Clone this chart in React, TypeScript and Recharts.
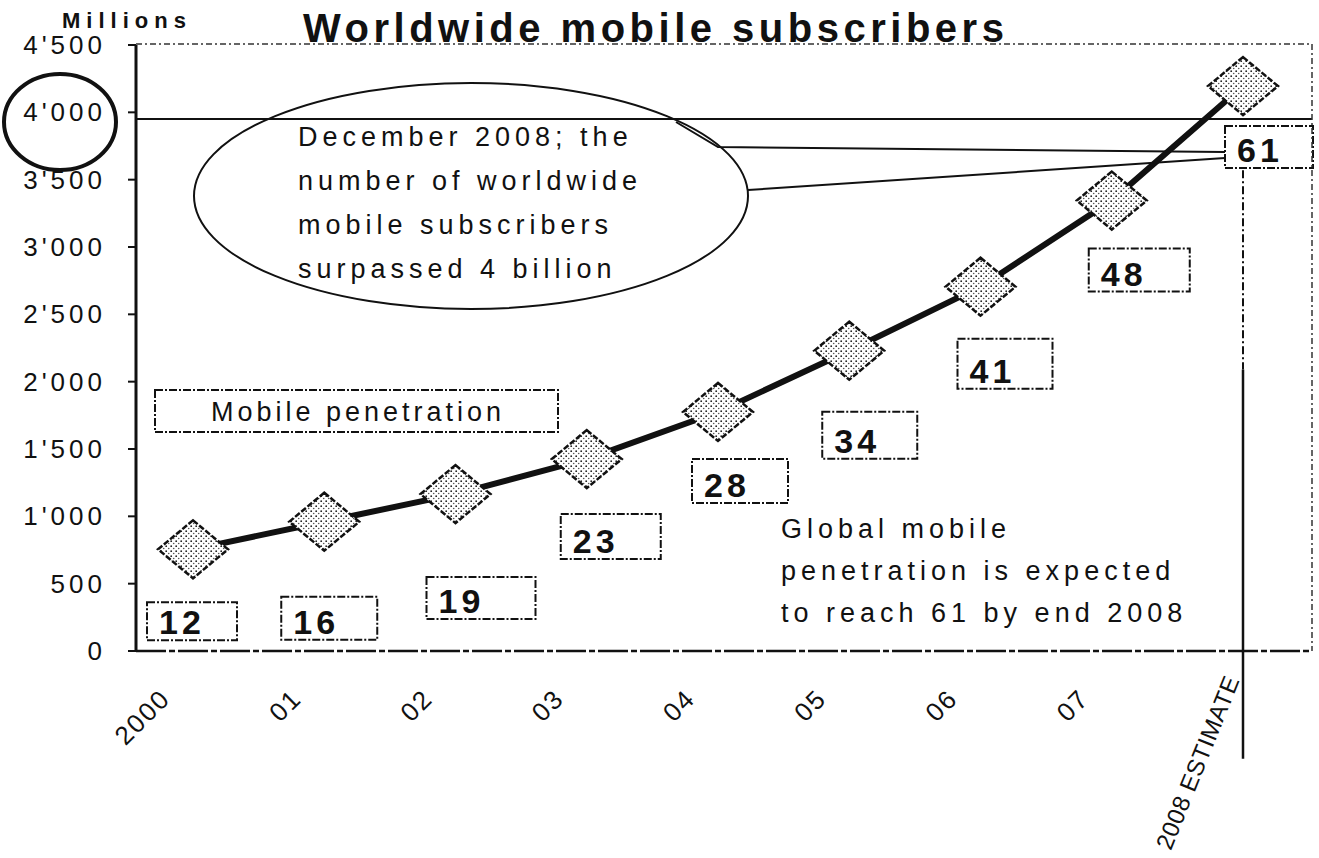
import { LineChart, Line, XAxis, YAxis, ReferenceLine, LabelList } from "recharts";

const FONT = "'Liberation Sans', Arial, sans-serif";

// values
const years = ["2000", "01", "02", "03", "04", "05", "06", "07", "2008 ESTIMATE"];
const subscribers = [755, 960, 1165, 1425, 1775, 2230, 2705, 3345, 4195]; // millions
const penetration = [12, 16, 19, 23, 28, 34, 41, 48, 61]; // per 100 inhabitants
const yTicks = [0, 500, 1000, 1500, 2000, 2500, 3000, 3500, 4000, 4500];

// where each penetration box sits relative to its point (layout only)
const boxLayout = [
    { dx: -46, dy: 53, w: 90, h: 38 },
    { dx: -43, dy: 75, w: 96, h: 43 },
    { dx: -29, dy: 83, w: 109, h: 42 },
    { dx: -26, dy: 55, w: 100, h: 45 },
    { dx: -26, dy: 47, w: 96, h: 44 },
    { dx: -27, dy: 61, w: 95, h: 47 },
    { dx: -23, dy: 52, w: 95, h: 50 },
    { dx: -23, dy: 48, w: 101, h: 43 },
    { dx: -18, dy: 40, w: 88, h: 42 },
];

const data = years.map((year, i) => ({
    year,
    subscribers: subscribers[i],
    penetration: penetration[i],
}));

function fmt(v: number) {
    if (v < 1000) return String(v);
    return `${Math.floor(v / 1000)}'${String(v % 1000).padStart(3, "0")}`;
}

function Diamond(props: any) {
    const { cx, cy, index } = props;
    if (cx == null || cy == null) return null;
    const w = 35;
    const h = 29;
    return (
        <polygon
            key={`d-${index}`}
            points={`${cx},${cy - h} ${cx + w},${cy} ${cx},${cy + h} ${cx - w},${cy}`}
            fill="url(#stipple)"
            stroke="#111"
            strokeWidth={2.5}
            strokeDasharray="6 2"
        />
    );
}

function PenBox(props: any) {
    const { x, y, value, index } = props;
    const b = boxLayout[index];
    if (!b || x == null) return null;
    const left = x + b.dx;
    const top = y + b.dy;
    return (
        <g>
            <rect
                x={left}
                y={top}
                width={b.w}
                height={b.h}
                fill="#fff"
                stroke="#111"
                strokeWidth={2}
                strokeDasharray="8 2 2 2"
            />
            <text
                x={left + 12}
                y={top + b.h - 6}
                fontSize={34}
                fontWeight="bold"
                letterSpacing={4}
                fill="#111"
                fontFamily={FONT}
            >
                {value}
            </text>
        </g>
    );
}

function YTick(props: any) {
    const { x, y, payload } = props;
    return (
        <text
            x={x}
            y={y}
            dy={9}
            textAnchor="end"
            fontSize={26}
            letterSpacing={4}
            fill="#111"
            fontFamily={FONT}
        >
            {fmt(payload.value)}
        </text>
    );
}

function YearTick(props: any) {
    const { x, y, payload } = props;
    const last = payload.value === "2008 ESTIMATE";
    const ax = x + (last ? -3 : -21);
    const ay = y + (last ? 29 : 49);
    return (
        <text
            x={ax}
            y={ay}
            textAnchor="end"
            transform={`rotate(${last ? -68 : -45} ${ax} ${ay})`}
            fontSize={last ? 24 : 26}
            letterSpacing={last ? 0.5 : 2}
            fill="#111"
            fontFamily={FONT}
        >
            {payload.value}
        </text>
    );
}

const calloutLines = [
    "December 2008; the",
    "number of worldwide",
    "mobile subscribers",
    "surpassed 4 billion",
];

const noteLines = [
    "Global mobile",
    "penetration is expected",
    "to reach 61 by end 2008",
];

export default function App() {
    return (
        <div
            style={{
                position: "absolute",
                left: 0,
                top: 0,
                width: 1319,
                height: 858,
                background: "#fff",
                fontFamily: FONT,
            }}
        >
            <svg width={0} height={0} style={{ position: "absolute" }}>
                <defs>
                    <pattern id="stipple" width="5" height="5" patternUnits="userSpaceOnUse">
                        <rect width="5" height="5" fill="#fff" />
                        <circle cx="1.2" cy="1.2" r="0.9" fill="#222" />
                        <circle cx="3.7" cy="3.5" r="0.8" fill="#555" />
                    </pattern>
                </defs>
            </svg>

            <LineChart
                width={1319}
                height={858}
                data={data}
                margin={{ top: 45, right: 7, bottom: 57, left: 0 }}
            >
                <XAxis
                    dataKey="year"
                    scale="point"
                    padding={{ left: 57, right: 69 }}
                    height={150}
                    tickSize={0}
                    tickMargin={0}
                    tickLine={false}
                    interval={0}
                    axisLine={{ stroke: "#111", strokeWidth: 2.5, strokeDasharray: "30 3 6 3" }}
                    tick={<YearTick />}
                />
                <YAxis
                    width={136}
                    domain={[0, 4500]}
                    ticks={yTicks}
                    interval={0}
                    tickSize={8}
                    tickMargin={22}
                    axisLine={{ stroke: "#111", strokeWidth: 3 }}
                    tickLine={{ stroke: "#111", strokeWidth: 2 }}
                    tick={<YTick />}
                />
                <ReferenceLine y={3950} stroke="#111" strokeWidth={2} ifOverflow="visible" />
                <ReferenceLine
                    segment={[
                        { x: "2008 ESTIMATE", y: 3570 },
                        { x: "2008 ESTIMATE", y: 2090 },
                    ]}
                    stroke="#111"
                    strokeWidth={2}
                    strokeDasharray="8 3 2 3"
                    ifOverflow="visible"
                />
                <ReferenceLine
                    segment={[
                        { x: "2008 ESTIMATE", y: 2090 },
                        { x: "2008 ESTIMATE", y: -800 },
                    ]}
                    stroke="#111"
                    strokeWidth={2.5}
                    ifOverflow="visible"
                />
                <Line
                    dataKey="subscribers"
                    stroke="#111"
                    strokeWidth={6}
                    dot={(p: any) => <Diamond key={`dot-${p.index}`} {...p} />}
                    activeDot={false}
                    isAnimationActive={false}
                >
                    <LabelList dataKey="penetration" content={(p: any) => <PenBox {...p} />} />
                </Line>
            </LineChart>

            <svg
                width={1319}
                height={858}
                style={{ position: "absolute", left: 0, top: 0, pointerEvents: "none" }}
                fontFamily={FONT}
            >
                {/* plot frame (top and right, dashed like the scan) */}
                <path
                    d="M136 44 H1312 V651"
                    fill="none"
                    stroke="#333"
                    strokeWidth={1.5}
                    strokeDasharray="6 3 2 3"
                />
                <text x={62} y={28} fontSize={22} fontWeight="bold" letterSpacing={6} fill="#111">
                    Millions
                </text>
                <text x={303} y={42} fontSize={40} fontWeight="bold" letterSpacing={4.5} fill="#111">
                    Worldwide mobile subscribers
                </text>

                {/* circle drawn around the 4'000 tick */}
                <ellipse cx={60} cy={122} rx={56} ry={48} fill="none" stroke="#111" strokeWidth={4} />

                {/* speech bubble */}
                <ellipse cx={471} cy={196} rx={277} ry={113} fill="none" stroke="#111" strokeWidth={2} />
                <polyline points="676,122 718,147 1225,152" fill="none" stroke="#111" strokeWidth={2} />
                <polyline points="748,190 1225,158" fill="none" stroke="#111" strokeWidth={2} />
                {calloutLines.map((t, i) => (
                    <text key={t} x={298} y={146 + i * 44} fontSize={27} letterSpacing={5} fill="#111">
                        {t}
                    </text>
                ))}

                {/* legend box */}
                <rect
                    x={155}
                    y={390}
                    width={403}
                    height={42}
                    fill="#fff"
                    stroke="#111"
                    strokeWidth={2}
                    strokeDasharray="8 2 2 2"
                />
                <text x={358} y={421} textAnchor="middle" fontSize={27} letterSpacing={4} fill="#111">
                    Mobile penetration
                </text>

                {noteLines.map((t, i) => (
                    <text key={t} x={781} y={538 + i * 42} fontSize={27} letterSpacing={5} fill="#111">
                        {t}
                    </text>
                ))}
            </svg>
        </div>
    );
}
